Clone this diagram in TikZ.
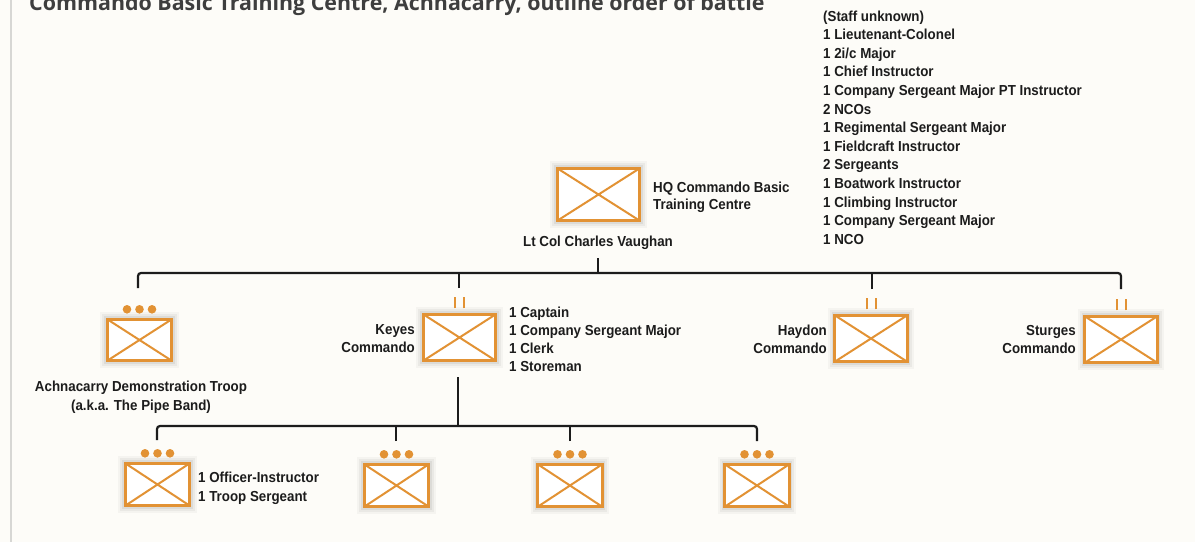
\documentclass[tikz,border=0pt]{standalone}
\usepackage{fontspec}
\setmainfont{Liberation Sans}[FakeStretch=0.92]
\newfontfamily\titlefont{Open Sans}
\usetikzlibrary{calc}

\definecolor{armsorange}{RGB}{226,146,52}
\definecolor{ink}{RGB}{28,28,28}
\definecolor{paper}{RGB}{253,252,248}
\definecolor{edgegray}{RGB}{215,215,212}

\tikzset{
  lbl/.style={inner sep=0pt, text=ink, font=\bfseries\fontsize{14.5}{18}\selectfont},
  lblw/.style={lbl, anchor=base west},
  lble/.style={lbl, anchor=base east},
  lblc/.style={lbl, anchor=base},
  conn/.style={draw=ink, line width=2.2pt, rounded corners=3pt},
  frame/.style={draw=armsorange, line width=3pt},
  crossline/.style={draw=armsorange, line width=2pt},
  echelon/.style={fill=armsorange},
  bartwo/.style={draw=armsorange, line width=2pt},
  unitanchor/.style={rectangle, inner sep=0pt, draw=none},
}

\newcommand\armsbox[5]{%
  \node[unitanchor, minimum width=#4pt, minimum height=#5pt] (#1) at (#2,#3) {};
  \foreach \k/\o in {7/0.03,5/0.045,3/0.06,1.5/0.08}
    \fill[black, opacity=\o] ($(#1.north west)+(-\k,-\k)$) rectangle ($(#1.south east)+(\k,\k)$);
  \fill[white] (#1.north west) rectangle (#1.south east);
  \draw[crossline] (#1.north west) -- (#1.south east) (#1.north east) -- (#1.south west);
  \draw[frame] (#1.north west) rectangle (#1.south east);
}
\newcommand\threedots[1]{%
  \foreach \dx in {-12.5,0,12.5}
    \fill[echelon] ($(#1.north)+(\dx,-10)$) circle (4.3pt);
}
\newcommand\twobars[1]{%
  \draw[bartwo] ($(#1.north)+(-4.5,-6)$) -- ++(0,-11);
  \draw[bartwo] ($(#1.north)+(4.5,-6)$) -- ++(0,-11);
}

\begin{document}
\begin{tikzpicture}[x=1pt,y=-1pt]
\useasboundingbox (0,0) rectangle (1195,542);
\fill[paper] (0,0) rectangle (1195,542);
\draw[edgegray, line width=1.5pt] (11,0) -- (11,542);

% title, cut off at the top edge as in the reference
\node[inner sep=0pt, anchor=base west, text=ink!85, font=\titlefont\bfseries\fontsize{21.4}{24}\selectfont] (title) at (29,10)
  {Commando Basic Training Centre, Achnacarry, outline order of battle};

% staff list
\node[lblw] (s1) at (823,21) {(Staff unknown)};
\node[lblw] (s2) at (823,39.6) {1 Lieutenant-Colonel};
\node[lblw] (s3) at (823,58.2) {1 2i/c Major};
\node[lblw] (s4) at (823,76.8) {1 Chief Instructor};
\node[lblw] (s5) at (823,95.4) {1 Company Sergeant Major PT Instructor};
\node[lblw] (s6) at (823,114) {2 NCOs};
\node[lblw] (s7) at (823,132.6) {1 Regimental Sergeant Major};
\node[lblw] (s8) at (823,151.2) {1 Fieldcraft Instructor};
\node[lblw] (s9) at (823,169.8) {2 Sergeants};
\node[lblw] (s10) at (823,188.4) {1 Boatwork Instructor};
\node[lblw] (s11) at (823,207) {1 Climbing Instructor};
\node[lblw] (s12) at (823,225.6) {1 Company Sergeant Major};
\node[lblw] (s13) at (823,244.2) {1 NCO};

% HQ
\armsbox{hq}{598.5}{194.5}{82}{52}
\node[lblw] (hqa) at (653,192) {HQ Commando Basic};
\node[lblw] (hqb) at (653,209) {Training Centre};
\node[lblc] (hqc) at (598,246) {Lt Col Charles Vaughan};

% second level
\armsbox{demo}{139.5}{340}{64}{41}
\threedots{demo}
\node[lblc] (demoa) at (141,391) {Achnacarry Demonstration Troop};
\node[lblc] (demob) at (141,410) {(a.k.a. The Pipe Band)};

\armsbox{keyes}{459.5}{337.5}{72}{46}
\twobars{keyes}
\node[lble] (keyesa) at (415,334) {Keyes};
\node[lble] (keyesb) at (415,352) {Commando};
\node[lblw] (k1) at (509,317) {1 Captain};
\node[lblw] (k2) at (509,335.3) {1 Company Sergeant Major};
\node[lblw] (k3) at (509,353.6) {1 Clerk};
\node[lblw] (k4) at (509,371.9) {1 Storeman};

\armsbox{haydon}{871}{338.5}{72}{46}
\twobars{haydon}
\node[lble] (haydona) at (827,335) {Haydon};
\node[lble] (haydonb) at (827,353) {Commando};

\armsbox{sturges}{1121}{339.5}{72}{46}
\twobars{sturges}
\node[lble] (sturgesa) at (1076,335) {Sturges};
\node[lble] (sturgesb) at (1076,353) {Commando};

% third level
\armsbox{ta}{157.5}{484.5}{64}{42}
\threedots{ta}
\armsbox{tb}{396.5}{485.5}{64}{42}
\threedots{tb}
\armsbox{tc}{570}{485.5}{64}{42}
\threedots{tc}
\armsbox{td}{757}{485.5}{64}{42}
\threedots{td}
\node[lblw] (ta1) at (198,482) {1 Officer-Instructor};
\node[lblw] (ta2) at (198,501) {1 Troop Sergeant};

% connectors, upper tree
\coordinate (hqstem) at (598,258);
\coordinate (bar) at (598,273);
\coordinate (demotop) at (138,288);
\coordinate (keyestop) at (459,288);
\coordinate (haydontop) at (872,289);
\coordinate (sturgestop) at (1121,289);
\draw[conn] (hqstem) -- (bar);
\draw[conn] (demotop) |- (bar) -| (sturgestop);
\draw[conn] (keyestop) -- (keyestop |- bar);
\draw[conn] (haydontop) -- (haydontop |- bar);

% connectors, lower tree
\coordinate (keyesstem) at (458,377);
\coordinate (lowbar) at (458,426);
\coordinate (tatop) at (157,440);
\coordinate (tbtop) at (396,441);
\coordinate (tctop) at (570,441);
\coordinate (tdtop) at (757,441);
\draw[conn] (keyesstem) -- (lowbar);
\draw[conn] (tatop) |- (lowbar) -| (tdtop);
\draw[conn] (tbtop) -- (tbtop |- lowbar);
\draw[conn] (tctop) -- (tctop |- lowbar);
\end{tikzpicture}
\end{document}
